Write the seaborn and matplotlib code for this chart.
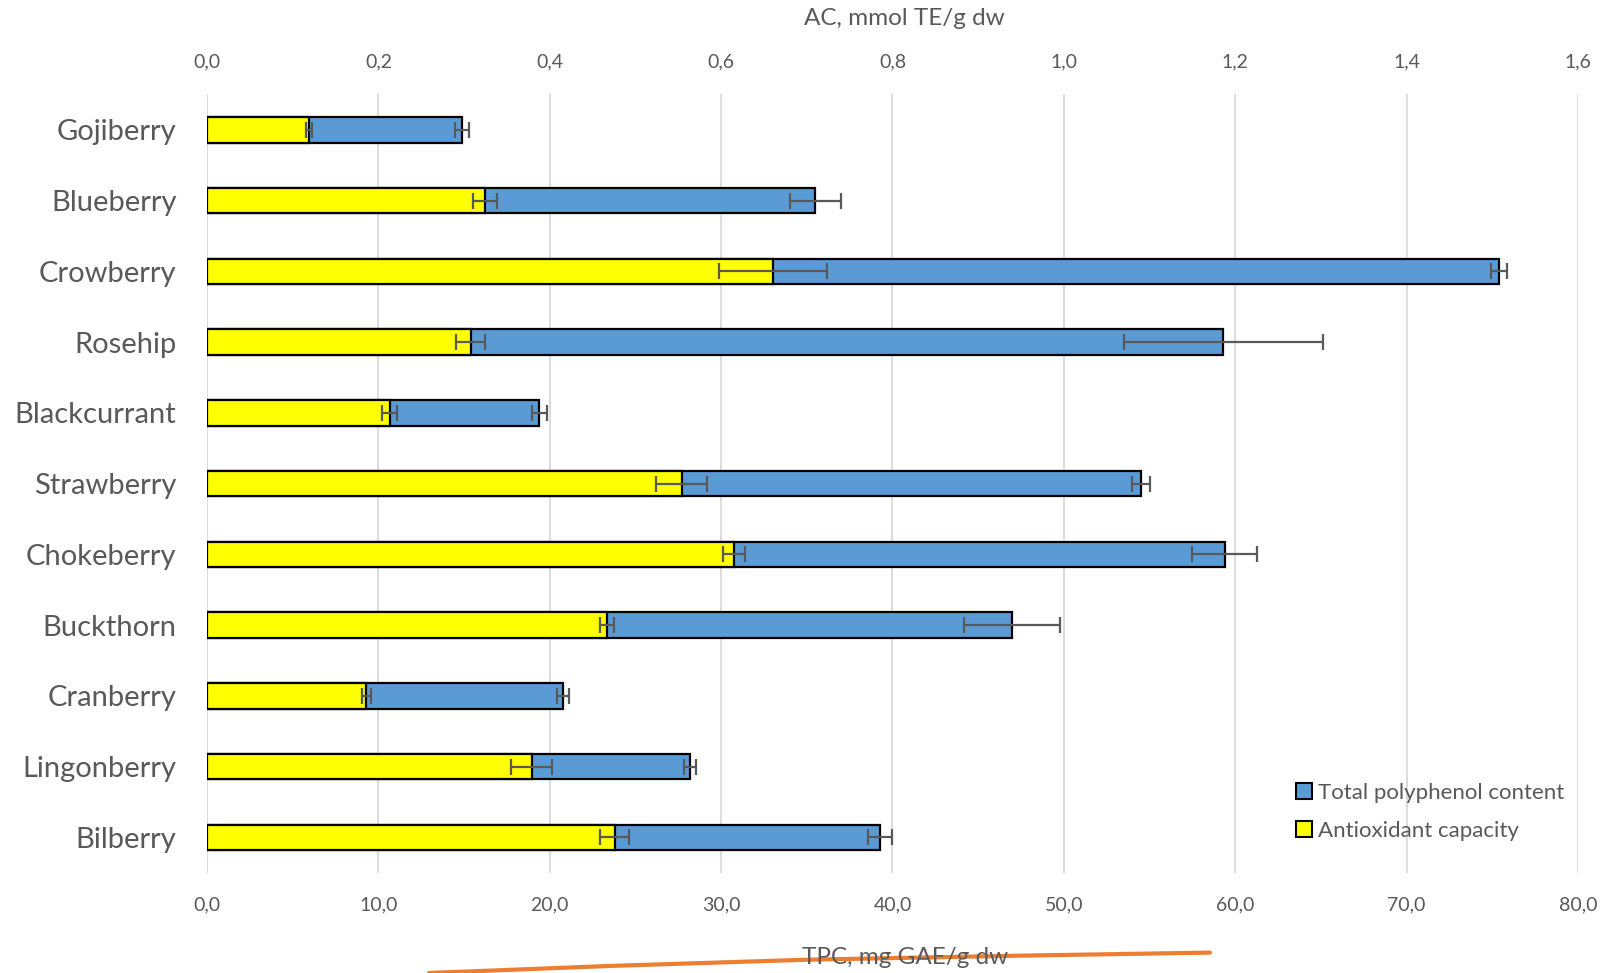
import numpy as np
import seaborn as sns
import matplotlib.pyplot as plt
from matplotlib.patches import Patch
from matplotlib.lines import Line2D
from matplotlib.ticker import FuncFormatter, MultipleLocator

berries = ['Gojiberry', 'Blueberry', 'Crowberry', 'Rosehip', 'Blackcurrant', 'Strawberry',
           'Chokeberry', 'Buckthorn', 'Cranberry', 'Lingonberry', 'Bilberry']
# total polyphenol content, mg GAE/g dw (bottom axis)
tpc = [14.9, 35.5, 75.4, 59.3, 19.4, 54.5, 59.4, 47.0, 20.8, 28.2, 39.3]
tpc_err = [0.4, 1.5, 0.45, 5.8, 0.45, 0.5, 1.9, 2.8, 0.35, 0.35, 0.7]
# antioxidant capacity, mmol TE/g dw (top axis)
ac = [0.119, 0.324, 0.661, 0.308, 0.213, 0.554, 0.615, 0.467, 0.186, 0.379, 0.476]
ac_err = [0.003, 0.014, 0.063, 0.017, 0.009, 0.030, 0.013, 0.008, 0.005, 0.024, 0.017]

blue = '#5B9BD5'
yellow = '#FFFF00'
grey = '#595959'

sns.set_theme(style='white')
plt.rcParams['font.family'] = ['Lato', 'DejaVu Sans']

fig = plt.figure(figsize=(16.01, 9.73), dpi=100)
ax = fig.add_axes([0.1293, 0.103, 0.8563, 0.80])

# blue bars - TPC
sns.barplot(x=tpc, y=berries, orient='h', color=blue, saturation=1, width=0.36,
            edgecolor='black', linewidth=1.6, ax=ax)
ax.errorbar(tpc, np.arange(len(berries)), xerr=tpc_err, fmt='none', ecolor=grey,
            elinewidth=1.6, capsize=6, capthick=1.6)
ax.set_xlim(0, 80)
ax.xaxis.set_major_locator(MultipleLocator(10))
ax.xaxis.grid(True, color='#D9D9D9', linewidth=1.3)
ax.set_axisbelow(True)

# yellow bars - AC on top axis
ax2 = ax.twiny()
sns.barplot(x=ac, y=berries, orient='h', color=yellow, saturation=1, width=0.36,
            edgecolor='black', linewidth=1.6, ax=ax2)
ax2.errorbar(ac, np.arange(len(berries)), xerr=ac_err, fmt='none', ecolor=grey,
             elinewidth=1.6, capsize=6, capthick=1.6)
ax2.set_xlim(0, 1.6)
ax2.xaxis.set_major_locator(MultipleLocator(0.2))
ax2.grid(False)
ax.set_ylim(10.5, -0.5)

comma1 = FuncFormatter(lambda v, p: f'{v:.1f}'.replace('.', ','))
ax.xaxis.set_major_formatter(comma1)
ax2.xaxis.set_major_formatter(comma1)

for a in (ax, ax2):
    for s in a.spines.values():
        s.set_visible(False)
    a.set_xlabel('')
    a.set_ylabel('')
ax.tick_params(axis='x', length=0, labelsize=14, colors=grey, pad=17)
ax2.tick_params(axis='x', length=0, labelsize=14, colors=grey, pad=17)
ax.tick_params(axis='y', length=0, labelsize=21, colors=grey, pad=22)

fig.text(0.565, 0.981, 'AC, mmol TE/g dw', ha='center', va='center', fontsize=17.5, color=grey)
fig.text(0.565, 0.0155, 'TPC, mg GAE/g dw', ha='center', va='center', fontsize=17.5, color=grey)

handles = [Patch(facecolor=blue, edgecolor='black', linewidth=1.5, label='Total polyphenol content'),
           Patch(facecolor=yellow, edgecolor='black', linewidth=1.5, label='Antioxidant capacity')]
leg = fig.legend(handles=handles, loc='upper left', bbox_to_anchor=(0.797, 0.216), frameon=False,
                 fontsize=16, handlelength=0.7, handleheight=0.7, handletextpad=0.3,
                 labelspacing=0.8)
for t in leg.get_texts():
    t.set_color(grey)

# orange stroke crossing the bottom title
lx = np.array([420, 600, 790, 1000, 1185]) / 1568
ly = 1 - np.array([953, 946, 940, 936, 933]) / 953
fig.add_artist(Line2D(lx, ly, color='#ED7D31', linewidth=3, transform=fig.transFigure))

fig.savefig('out.png', dpi=100)
